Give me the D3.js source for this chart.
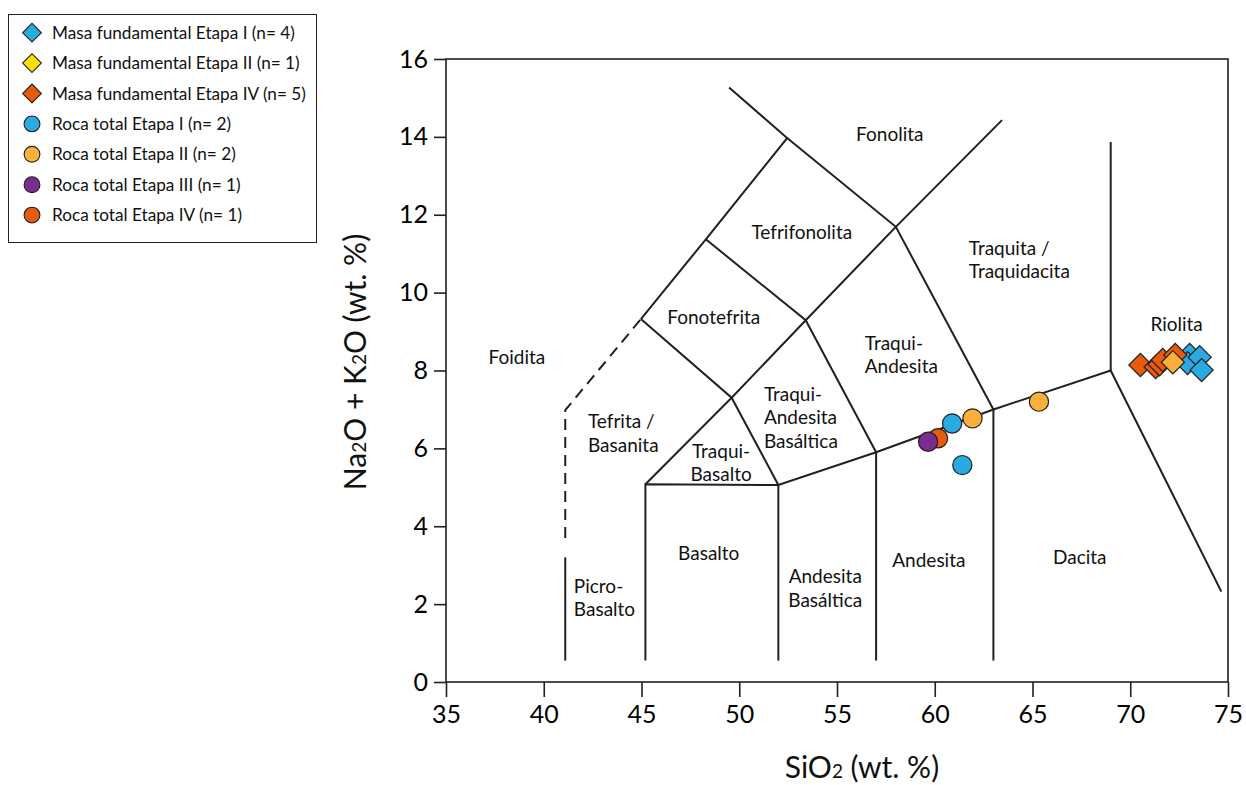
<!DOCTYPE html>
<html>
<head>
  <meta charset="utf-8">
  <title>Diagrama TAS</title>
  <script src="https://cdn.jsdelivr.net/npm/d3@7"></script>
  <style>
    body { margin: 0; background: #fff; font-family: Lato, "Open Sans", sans-serif; }
    .tick line { stroke: #231f20; stroke-width: 1.6px; }
  </style>
</head>
<body>
<script>
  // chart values
  var xTicks = [35, 40, 45, 50, 55, 60, 65, 70, 75];
  var yTicks = [0, 2, 4, 6, 8, 10, 12, 14, 16];

  // field boundaries (SiO2, Na2O+K2O)
  var solidLines = [
    [[41.1, 0.55], [41.1, 3.2]],
    [[45.2, 0.55], [45.2, 5.08], [52.0, 5.06], [57.0, 5.9], [63.0, 7.0], [69.0, 8.0], [74.66, 2.32]],
    [[52.0, 0.55], [52.0, 5.06]],
    [[57.0, 0.55], [57.0, 5.9]],
    [[63.0, 0.55], [63.0, 7.0]],
    [[69.0, 8.0], [69.0, 13.87]],
    [[45.2, 5.08], [49.61, 7.3], [53.4, 9.29], [58.01, 11.69], [63.44, 14.43]],
    [[44.97, 9.32], [48.29, 11.37], [52.45, 13.97], [49.48, 15.27]],
    [[44.97, 9.32], [49.61, 7.3], [52.0, 5.06]],
    [[48.29, 11.37], [53.4, 9.29], [57.0, 5.9]],
    [[52.45, 13.97], [58.01, 11.69], [63.0, 7.0]]
  ];
  var dashedLines = [
    [[41.1, 3.7], [41.1, 6.98], [44.97, 9.32]]
  ];

  var fieldNames = [
    {lines: ["Fonolita"], x: 57.70, y: 14.07, anchor: "middle"},
    {lines: ["Tefrifonolita"], x: 53.20, y: 11.55, anchor: "middle"},
    {lines: ["Fonotefrita"], x: 48.70, y: 9.35, anchor: "middle"},
    {lines: ["Foidita"], x: 38.63, y: 8.34, anchor: "middle"},
    {lines: ["Tefrita /", "Basanita"], x: 42.26, y: 6.68, anchor: "start"},
    {lines: ["Traqui-", "Basalto"], x: 49.07, y: 5.93, anchor: "middle"},
    {lines: ["Traqui-", "Andesita", "Basáltica"], x: 51.26, y: 7.39, anchor: "start"},
    {lines: ["Traqui-", "Andesita"], x: 56.42, y: 8.70, anchor: "start"},
    {lines: ["Traquita /", "Traquidacita"], x: 61.74, y: 11.14, anchor: "start"},
    {lines: ["Riolita"], x: 72.37, y: 9.17, anchor: "middle"},
    {lines: ["Picro-", "Basalto"], x: 41.54, y: 2.46, anchor: "start"},
    {lines: ["Basalto"], x: 48.44, y: 3.29, anchor: "middle"},
    {lines: ["Andesita", "Basáltica"], x: 54.40, y: 2.70, anchor: "middle"},
    {lines: ["Andesita"], x: 59.70, y: 3.13, anchor: "middle"},
    {lines: ["Dacita"], x: 67.42, y: 3.21, anchor: "middle"}
  ];

  // samples
  var seriesNames = [
    "Masa fundamental Etapa I (n= 4)",
    "Masa fundamental Etapa II (n= 1)",
    "Masa fundamental Etapa IV (n= 5)",
    "Roca total Etapa I (n= 2)",
    "Roca total Etapa II (n= 2)",
    "Roca total Etapa III (n= 1)",
    "Roca total Etapa IV (n= 1)"
  ];
  var mfEtapaI = [[73.04, 8.40], [72.93, 8.19], [73.55, 8.34], [73.65, 8.01]];
  var mfEtapaII = [[72.18, 8.21]];
  var mfEtapaIV = [[70.52, 8.14], [71.30, 8.09], [71.50, 8.16], [71.66, 8.27], [72.30, 8.40]];
  var rtEtapaI = [[60.89, 6.64], [61.41, 5.57]];
  var rtEtapaII = [[61.93, 6.77], [65.33, 7.20]];
  var rtEtapaIII = [[59.66, 6.17]];
  var rtEtapaIV = [[60.17, 6.26]];

  var seriesData = [mfEtapaI, mfEtapaII, mfEtapaIV, rtEtapaI, rtEtapaII, rtEtapaIII, rtEtapaIV];
  var seriesShape = ["diamond", "diamond", "diamond", "circle", "circle", "circle", "circle"];
  var legendColor = ["#29abe2", "#ffe000", "#e85a0c", "#29abe2", "#fbb03b", "#7b2d8e", "#e85a0c"];
  var markColor = ["#29abe2", "#fbb03b", "#e85a0c", "#29abe2", "#fbb03b", "#7b2d8e", "#e85a0c"];
  var drawOrder = [0, 2, 1, 3, 4, 6, 5];

  var width = 1246, height = 785;
  var margin = {top: 59, right: 18, bottom: 103, left: 446};
  var ink = "#231f20";

  var svg = d3.select("body").append("svg")
    .attr("width", width)
    .attr("height", height);

  var xScale = d3.scaleLinear().domain([35, 75]).range([margin.left, width - margin.right]);
  var yScale = d3.scaleLinear().domain([0, 16]).range([height - margin.bottom, margin.top]);

  // frame
  svg.append("rect")
    .attr("x", xScale(35)).attr("y", yScale(16))
    .attr("width", xScale(75) - xScale(35))
    .attr("height", yScale(0) - yScale(16))
    .attr("fill", "none").attr("stroke", ink).attr("stroke-width", 1.6);

  // axes
  var xAxis = svg.append("g")
    .attr("transform", "translate(0," + yScale(0) + ")")
    .call(d3.axisBottom(xScale).tickValues(xTicks).tickSize(15).tickPadding(8).tickSizeOuter(0));
  var yAxis = svg.append("g")
    .attr("transform", "translate(" + xScale(35) + ",0)")
    .call(d3.axisLeft(yScale).tickValues(yTicks).tickSize(12).tickPadding(6).tickSizeOuter(0));
  [xAxis, yAxis].forEach(function (a) {
    a.select(".domain").remove();
    a.selectAll("text").attr("fill", "#000").style("font-family", "Lato, sans-serif").style("font-size", "25px");
  });

  // boundaries
  var line = d3.line().x(d => xScale(d[0])).y(d => yScale(d[1]));
  svg.append("g").selectAll("path").data(solidLines).enter().append("path")
    .attr("d", line).attr("fill", "none").attr("stroke", ink)
    .attr("stroke-width", 2).attr("stroke-linejoin", "miter");
  svg.append("g").selectAll("path").data(dashedLines).enter().append("path")
    .attr("d", line).attr("fill", "none").attr("stroke", ink)
    .attr("stroke-width", 2).attr("stroke-dasharray", "11,7");

  // field names
  var names = svg.append("g").style("font-size", "19px").attr("fill", "#111");
  fieldNames.forEach(function (f) {
    var t = names.append("text")
      .attr("text-anchor", f.anchor)
      .attr("x", xScale(f.x)).attr("y", yScale(f.y) + 6.5);
    f.lines.forEach(function (s, i) {
      t.append("tspan").attr("x", xScale(f.x)).attr("dy", i === 0 ? 0 : 23.5).text(s);
    });
  });

  // samples
  var diamond = d3.symbol().type(d3.symbolSquare).size(268);
  var pts = svg.append("g");
  drawOrder.forEach(function (k) {
    var g = pts.append("g");
    if (seriesShape[k] === "diamond") {
      g.selectAll("path").data(seriesData[k]).enter().append("path")
        .attr("d", diamond)
        .attr("transform", d => "translate(" + xScale(d[0]) + "," + yScale(d[1]) + ") rotate(45)")
        .attr("fill", markColor[k]).attr("stroke", ink).attr("stroke-width", 1.2);
    } else {
      g.selectAll("circle").data(seriesData[k]).enter().append("circle")
        .attr("cx", d => xScale(d[0])).attr("cy", d => yScale(d[1])).attr("r", 9.6)
        .attr("fill", markColor[k]).attr("stroke", ink).attr("stroke-width", 1.2);
    }
  });

  // axis titles
  var xt = svg.append("text").attr("x", 862).attr("y", 778)
    .attr("text-anchor", "middle").style("font-size", "30px").attr("fill", "#111");
  xt.append("tspan").text("SiO");
  xt.append("tspan").style("font-size", "19px").text("2");
  xt.append("tspan").text(" (wt. %)");

  var yt = svg.append("text")
    .attr("transform", "translate(366,362) rotate(-90)")
    .attr("text-anchor", "middle").style("font-size", "30px").attr("fill", "#111");
  yt.append("tspan").text("Na");
  yt.append("tspan").style("font-size", "19px").text("2");
  yt.append("tspan").text("O + K");
  yt.append("tspan").style("font-size", "19px").text("2");
  yt.append("tspan").text("O (wt. %)");

  // legend
  var legend = svg.append("g");
  legend.append("rect").attr("x", 8.5).attr("y", 14.5).attr("width", 308).attr("height", 228)
    .attr("fill", "#fff").attr("stroke", ink).attr("stroke-width", 1);
  var legendSquare = d3.symbol().type(d3.symbolSquare).size(175);
  seriesNames.forEach(function (name, i) {
    var cy = 32.7 + i * 30.4;
    if (seriesShape[i] === "diamond") {
      legend.append("path").attr("d", legendSquare)
        .attr("transform", "translate(32," + cy + ") rotate(45)")
        .attr("fill", legendColor[i]).attr("stroke", ink).attr("stroke-width", 1.1);
    } else {
      legend.append("circle").attr("cx", 32).attr("cy", cy).attr("r", 7.9)
        .attr("fill", legendColor[i]).attr("stroke", ink).attr("stroke-width", 1.1);
    }
    legend.append("text").attr("x", 52).attr("y", cy + 6)
      .style("font-size", "17.2px").attr("fill", "#111").text(name);
  });
</script>
</body>
</html>
